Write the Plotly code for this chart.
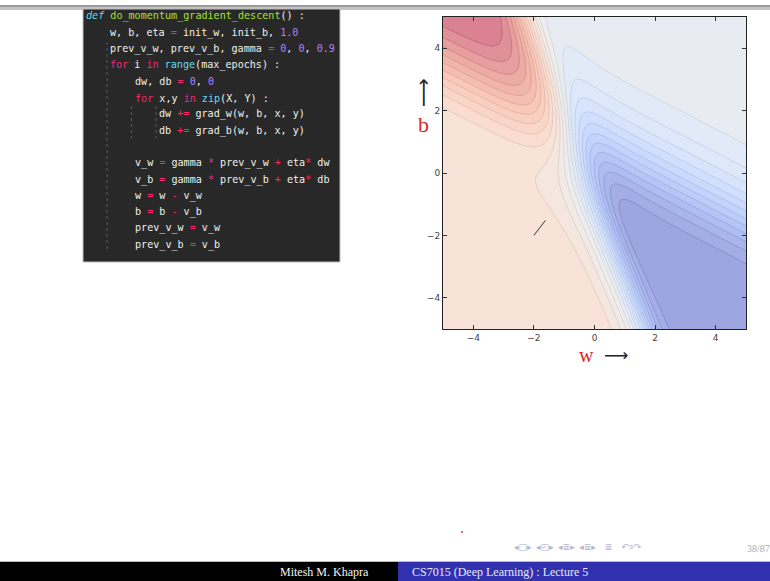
import numpy as np
import plotly.graph_objects as go

W, H = 770, 581

# ---- data ----
data_x = [0.5, 2.5]          # training inputs
data_y = [0.2, 0.9]          # training targets
w_range = [-5, 5]
b_range = [-5, 5]
tick_vals = [-4, -2, 0, 2, 4]
traj_w = [-2.0, -1.62]       # momentum GD path (first steps)
traj_b = [-2.0, -1.52]

code_lines = [
    (0, [("def", "kw_i"), (" ", "t"), ("do_momentum_gradient_descent", "fn"), ("() :", "t")]),
    (4, [("w, b, eta ", "t"), ("=", "op"), (" init_w, init_b, ", "t"), ("1.0", "num")]),
    (4, [("prev_v_w, prev_v_b, gamma ", "t"), ("=", "op"), (" ", "t"), ("0", "num"), (", ", "t"),
         ("0", "num"), (", ", "t"), ("0.9", "num")]),
    (4, [("for", "op"), (" i ", "t"), ("in", "op"), (" ", "t"), ("range", "kw"), ("(max_epochs) :", "t")]),
    (8, [("dw, db ", "t"), ("=", "op"), (" ", "t"), ("0", "num"), (", ", "t"), ("0", "num")]),
    (8, [("for", "op"), (" x,y ", "t"), ("in", "op"), (" ", "t"), ("zip", "kw"), ("(X, Y) :", "t")]),
    (12, [("dw ", "t"), ("+=", "op"), (" grad_w(w, b, x, y)", "t")]),
    (12, [("db ", "t"), ("+=", "op"), (" grad_b(w, b, x, y)", "t")]),
    (0, []),
    (8, [("v_w ", "t"), ("=", "op"), (" gamma ", "t"), ("*", "op"), (" prev_v_w ", "t"), ("+", "op"),
         (" eta", "t"), ("*", "op"), (" dw", "t")]),
    (8, [("v_b ", "t"), ("=", "op"), (" gamma ", "t"), ("*", "op"), (" prev_v_b ", "t"), ("+", "op"),
         (" eta", "t"), ("*", "op"), (" db", "t")]),
    (8, [("w ", "t"), ("=", "op"), (" w ", "t"), ("-", "op"), (" v_w", "t")]),
    (8, [("b ", "t"), ("=", "op"), (" b ", "t"), ("-", "op"), (" v_b", "t")]),
    (8, [("prev_v_w ", "t"), ("=", "op"), (" v_w", "t")]),
    (8, [("prev_v_b ", "t"), ("=", "op"), (" v_b", "t")]),
]

footer_left = "Mitesh M. Khapra"
footer_right = "CS7015 (Deep Learning) : Lecture 5"
page_label = "38/87"

# ---- loss surface from the data ----
def sigmoid(t):
    return 1.0 / (1.0 + np.exp(-t))

gw = np.linspace(w_range[0], w_range[1], 241)
gb = np.linspace(b_range[0], b_range[1], 241)
WW, BB = np.meshgrid(gw, gb)
Z = np.zeros_like(WW)
for xi, yi in zip(data_x, data_y):
    Z += 0.5 * (sigmoid(WW * xi + BB) - yi) ** 2

# coolwarm blended with white
cw = [(0.0, (59, 76, 192)), (0.125, (98, 130, 234)), (0.25, (141, 176, 254)),
      (0.375, (184, 208, 249)), (0.5, (221, 221, 221)), (0.625, (245, 196, 173)),
      (0.75, (244, 154, 123)), (0.875, (222, 96, 77)), (1.0, (180, 4, 38))]

def blend(alpha, dark=1.0):
    return [[p, "rgb(%d,%d,%d)" % tuple(int(round((alpha * c + (1 - alpha) * 255) * dark)) for c in rgb)]
            for p, rgb in cw]

zmax = float(Z.max())
lev = dict(start=0.025, end=0.65, size=0.025)

fig = go.Figure()
fig.add_trace(go.Contour(
    x=gw, y=gb, z=Z,
    colorscale=blend(0.5), zmin=0.0, zmax=zmax,
    contours=dict(coloring="fill", showlines=False, **lev),
    line=dict(width=0),
    showscale=False, hoverinfo="skip",
))
fig.add_trace(go.Contour(
    x=gw, y=gb, z=Z,
    colorscale=blend(0.6, 0.88), zmin=0.0, zmax=zmax,
    contours=dict(coloring="lines", **lev),
    line=dict(width=0.7),
    showscale=False, hoverinfo="skip",
))
fig.add_trace(go.Scatter(x=traj_w, y=traj_b, mode="lines",
                         line=dict(color="#333333", width=1), showlegend=False, hoverinfo="skip"))

def px(x):
    return x / W

def py(y):
    return 1 - y / H

px0, px1, pyt, pyb = 443, 746, 17, 329
axis_common = dict(showgrid=False, zeroline=False, showline=True, linecolor="#222",
                   linewidth=1, mirror="allticks", ticks="inside", ticklen=4,
                   tickcolor="#333", tickvals=tick_vals,
                   tickfont=dict(family="DejaVu Sans", size=9, color="#444"))
fig.update_layout(
    width=W, height=H, margin=dict(l=0, r=0, t=0, b=0),
    paper_bgcolor="white", plot_bgcolor="white", showlegend=False,
    xaxis=dict(domain=[px(px0), px(px1)], range=w_range, **axis_common),
    yaxis=dict(domain=[py(pyb), py(pyt)], range=b_range, **axis_common),
)

shapes = []
annots = []
# top bar
shapes.append(dict(type="rect", xref="paper", yref="paper", x0=0, x1=1, y0=py(10), y1=py(5),
                   fillcolor="#c4c4c4", line=dict(width=0), layer="below"))
shapes.append(dict(type="rect", xref="paper", yref="paper", x0=0, x1=1, y0=py(7), y1=py(5),
                   fillcolor="#9a9a9a", line=dict(width=0), layer="below"))
# code block
shapes.append(dict(type="rect", xref="paper", yref="paper", x0=px(83), x1=px(340), y0=py(262), y1=py(9),
                   fillcolor="#282828", line=dict(color="#bdbdbd", width=1), layer="below"))
# indentation guides
for gx, gy0, gy1 in [(107, 42, 252), (131.5, 106, 138), (156, 106, 138)]:
    shapes.append(dict(type="line", xref="paper", yref="paper", x0=px(gx), x1=px(gx), y0=py(gy0), y1=py(gy1),
                       line=dict(color="rgba(120,120,120,0.6)", width=1, dash="dot"), layer="above"))

colors = {"t": "#f0f0ea", "kw_i": "#66d9ef", "kw": "#66d9ef", "fn": "#a6e22e",
          "op": "#f92672", "num": "#ae81ff"}
char_w = 6.09
for i, (indent, toks) in enumerate(code_lines):
    if not toks:
        continue
    parts = []
    for txt, kind in toks:
        s = txt.replace(" ", "\u00a0")
        span = '<span style="color:%s">%s</span>' % (colors[kind], s)
        if kind == "kw_i":
            span = "<i>" + span + "</i>"
        parts.append(span)
    annots.append(dict(xref="paper", yref="paper", x=px(84 + indent * char_w), y=py(16.5 + 16.3 * i),
                       xanchor="left", yanchor="middle", showarrow=False, text="".join(parts),
                       font=dict(family="DejaVu Sans Mono", size=10.1, color=colors["t"])))

# axis labels
annots.append(dict(xref="paper", yref="paper", x=px(423), y=py(93), text="\u27f6", textangle=-90,
                   showarrow=False, font=dict(family="DejaVu Sans", size=20, color="#222"),
                   xanchor="center", yanchor="middle"))
annots.append(dict(xref="paper", yref="paper", x=px(423), y=py(125), text="b", showarrow=False,
                   font=dict(family="Liberation Serif", size=22, color="#d42a2a"),
                   xanchor="center", yanchor="middle"))
annots.append(dict(xref="paper", yref="paper", x=px(596), y=py(355), text="w", showarrow=False,
                   font=dict(family="Liberation Serif", size=20, color="#d42a2a"),
                   xanchor="right", yanchor="middle"))
annots.append(dict(xref="paper", yref="paper", x=px(602), y=py(355), text="\u27f6", showarrow=False,
                   font=dict(family="DejaVu Sans", size=17, color="#222"),
                   xanchor="left", yanchor="middle"))

# footer
shapes.append(dict(type="line", xref="paper", yref="paper", x0=0, x1=1, y0=py(561.5), y1=py(561.5),
                   line=dict(color="#bbbbbb", width=1)))
shapes.append(dict(type="rect", xref="paper", yref="paper", x0=0, x1=px(398), y0=0, y1=py(562),
                   fillcolor="#000000", line=dict(width=0)))
shapes.append(dict(type="rect", xref="paper", yref="paper", x0=px(398), x1=1, y0=0, y1=py(562),
                   fillcolor="#3131b0", line=dict(width=0)))
annots.append(dict(xref="paper", yref="paper", x=px(371), y=py(572), text=footer_left, showarrow=False,
                   xanchor="right", yanchor="middle",
                   font=dict(family="Liberation Serif", size=12, color="#f4f4f4")))
annots.append(dict(xref="paper", yref="paper", x=px(410), y=py(572), text=footer_right, showarrow=False,
                   xanchor="left", yanchor="middle",
                   font=dict(family="Liberation Serif", size=12, color="#e8e8f4")))
# navigation symbols
nav = "\u25c2\u25a1\u25b8\u2002\u25c2\u25f0\u25b8\u2002\u25c2\u2263\u25b8\u2002\u25c2\u2263\u25b8\u2003\u2263\u2003\u21b6\u2315\u21b7"
annots.append(dict(xref="paper", yref="paper", x=px(512), y=py(547), text=nav, showarrow=False,
                   xanchor="left", yanchor="middle",
                   font=dict(family="DejaVu Sans", size=9, color="#b4b4c8")))
annots.append(dict(xref="paper", yref="paper", x=px(745), y=py(548), text=page_label, showarrow=False,
                   xanchor="left", yanchor="middle",
                   font=dict(family="Liberation Serif", size=10, color="#a8a8b8")))
# small red mark
shapes.append(dict(type="circle", xref="paper", yref="paper", x0=px(461), x1=px(463), y0=py(533), y1=py(531),
                   fillcolor="#e03030", line=dict(width=0)))

fig.update_layout(shapes=shapes, annotations=annots)
fig.write_html("out.html", config={"displayModeBar": False},
               post_script="document.body.style.margin='0px';document.body.style.padding='0px';")
